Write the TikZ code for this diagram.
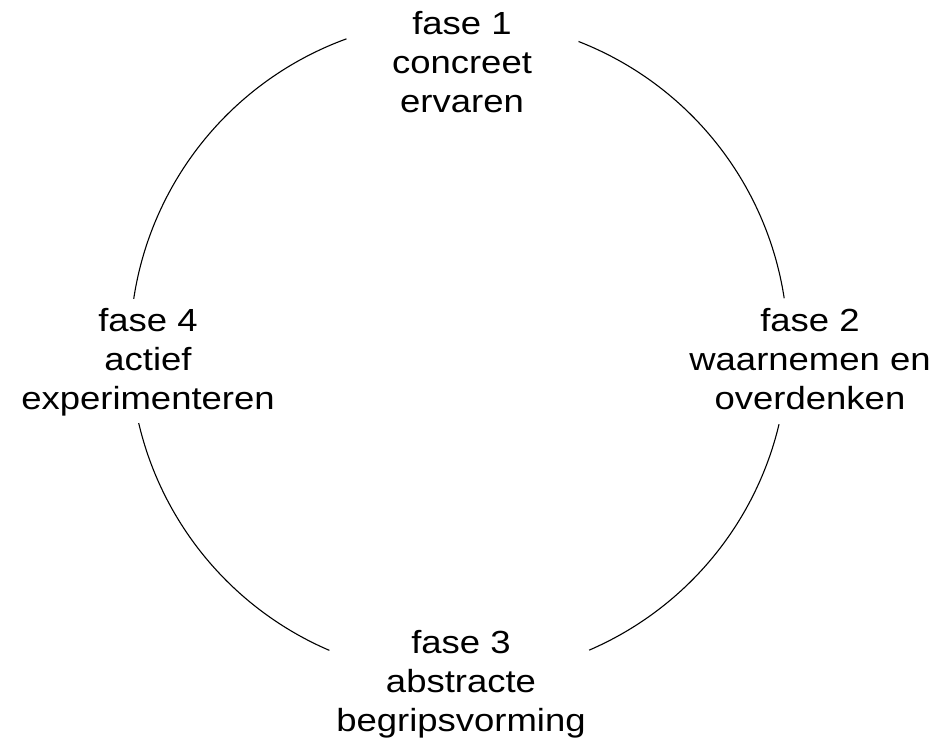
\documentclass[tikz,border=0pt]{standalone}
\usepackage{fontspec}
\setmainfont{Liberation Sans}[FakeStretch=1.14]
\begin{document}
\begin{tikzpicture}[x=1pt,y=1pt,
  lbl/.style={inner sep=0pt, anchor=base, font=\fontsize{32}{39}\selectfont},
  ring/.style={line width=1.1pt, black}]
\useasboundingbox (0,0) rectangle (934,-741);
\coordinate (c) at (459,-348);
\node[lbl] (f1) at (462,-35) {\begin{tabular}[t]{@{}c@{}}fase 1\\concreet\\ervaren\end{tabular}};
\node[lbl] (f2) at (810,-331) {\begin{tabular}[t]{@{}c@{}}fase 2\\waarnemen en\\overdenken\end{tabular}};
\node[lbl] (f3) at (461,-653) {\begin{tabular}[t]{@{}c@{}}fase 3\\abstracte\\begripsvorming\end{tabular}};
\node[lbl] (f4) at (148,-331) {\begin{tabular}[t]{@{}c@{}}fase 4\\actief\\experimenteren\end{tabular}};
\draw[ring] ([shift={(110:329)}]c) arc[start angle=110, end angle=171.4, radius=329];
\draw[ring] ([shift={(193.2:329)}]c) arc[start angle=193.2, end angle=246.8, radius=329];
\draw[ring] ([shift={(293.3:329)}]c) arc[start angle=293.3, end angle=346.6, radius=329];
\draw[ring] ([shift={(8.7:329)}]c) arc[start angle=8.7, end angle=68.7, radius=329];
\end{tikzpicture}
\end{document}
